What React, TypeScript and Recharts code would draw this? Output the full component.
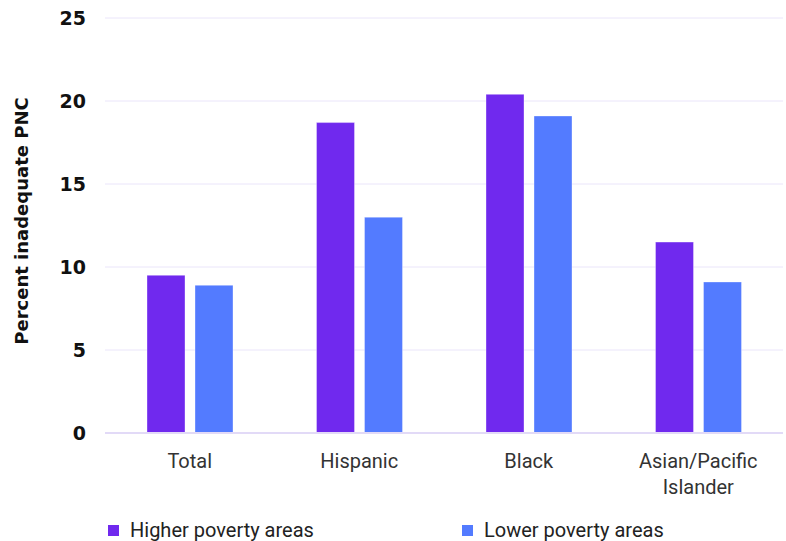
import { BarChart, Bar, XAxis, YAxis, CartesianGrid, Text } from 'recharts';

const categories = ['Total', 'Hispanic', 'Black', 'Asian/Pacific Islander'];
const higherPoverty = [9.5, 18.7, 20.4, 11.5];
const lowerPoverty = [8.9, 13.0, 19.1, 9.1];
const yTicks = [0, 5, 10, 15, 20, 25];

const PURPLE = '#7029EE';
const BLUE = '#537BFF';

const data = categories.map((name, i) => ({
    name,
    higher: higherPoverty[i],
    lower: lowerPoverty[i],
}));

const CategoryTick = (props: any) => {
    const { x, y, payload } = props;
    return (
        <Text
            x={x}
            y={y}
            width={140}
            textAnchor="middle"
            verticalAnchor="start"
            lineHeight={26}
            fill="#333"
            style={{ fontFamily: 'Roboto, sans-serif', fontSize: 20 }}
        >
            {payload.value}
        </Text>
    );
};

// rotated axis title, placed by hand against the left edge
const YTitle = () => (
    <text
        x={28}
        y={221}
        transform="rotate(-90 28 221)"
        textAnchor="middle"
        fill="#111"
        style={{ fontFamily: '"DejaVu Sans", sans-serif', fontWeight: 700, fontSize: 18 }}
    >
        Percent inadequate PNC
    </text>
);

const legendItems = [
    { label: 'Higher poverty areas', color: PURPLE, left: 108 },
    { label: 'Lower poverty areas', color: BLUE, left: 462 },
];

export default function App() {
    return (
        <div style={{ position: 'absolute', left: 0, top: 0, width: 786, height: 541, background: '#fff' }}>
            <BarChart
                width={786}
                height={541}
                data={data}
                margin={{ top: 18, right: 3, bottom: 48, left: 0 }}
                barSize={38}
                barGap={10}
            >
                <CartesianGrid vertical={false} stroke="#EAE5FA" strokeWidth={1} />
                <XAxis
                    dataKey="name"
                    height={60}
                    tickLine={false}
                    axisLine={{ stroke: '#E2DAF7', strokeWidth: 2 }}
                    tickMargin={15}
                    interval={0}
                    tick={<CategoryTick />}
                />
                <YAxis
                    width={105}
                    domain={[0, 25]}
                    ticks={yTicks}
                    tickLine={false}
                    axisLine={false}
                    tickMargin={13}
                    tick={{ fill: '#111', fontFamily: '"DejaVu Sans", sans-serif', fontWeight: 700, fontSize: 19 }}
                    label={<YTitle />}
                />
                <Bar dataKey="higher" fill={PURPLE} stroke="#ffffff" strokeOpacity={0.35} isAnimationActive={false} />
                <Bar dataKey="lower" fill={BLUE} stroke="#ffffff" strokeOpacity={0.35} isAnimationActive={false} />
            </BarChart>
            {legendItems.map(item => (
                <div
                    key={item.label}
                    style={{
                        position: 'absolute',
                        left: item.left,
                        top: 518,
                        display: 'flex',
                        alignItems: 'center',
                        fontFamily: 'Roboto, sans-serif',
                        fontSize: 20,
                        color: '#222',
                    }}
                >
                    <span style={{ width: 11, height: 11, background: item.color, marginRight: 11, display: 'inline-block' }} />
                    {item.label}
                </div>
            ))}
        </div>
    );
}
